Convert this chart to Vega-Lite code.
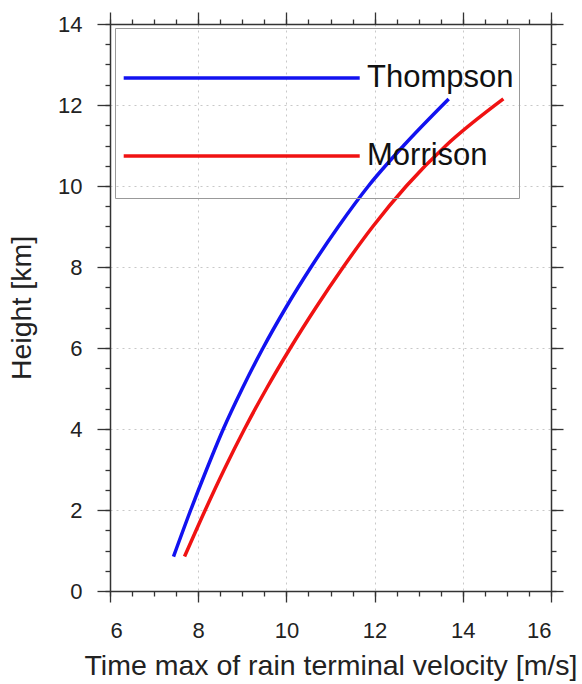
{
  "$schema": "https://vega.github.io/schema/vega-lite/v6.json",
  "width": 441,
  "height": 567,
  "autosize": {"type": "none"},
  "padding": {"left": 110, "top": 24, "right": 31, "bottom": 93},
  "background": "white",
  "config": {
    "view": {"stroke": null},
    "font": "Liberation Sans",
    "axis": {
      "domainColor": "#333",
      "domainWidth": 1.5,
      "tickColor": "#333",
      "tickWidth": 1.3,
      "labelFont": "Liberation Sans",
      "labelFontSize": 22,
      "labelColor": "#222",
      "titleFont": "Liberation Sans",
      "titleFontSize": 28.5,
      "titleFontWeight": "normal",
      "titleColor": "#222"
    }
  },
  "data": {
    "values": [
      {"scheme": "Thompson", "h": 0.85, "v": 7.44},
      {"scheme": "Thompson", "h": 2.0, "v": 7.83},
      {"scheme": "Thompson", "h": 3.0, "v": 8.19},
      {"scheme": "Thompson", "h": 4.0, "v": 8.57},
      {"scheme": "Thompson", "h": 5.0, "v": 9.00},
      {"scheme": "Thompson", "h": 6.0, "v": 9.47},
      {"scheme": "Thompson", "h": 7.0, "v": 9.99},
      {"scheme": "Thompson", "h": 8.0, "v": 10.56},
      {"scheme": "Thompson", "h": 9.0, "v": 11.18},
      {"scheme": "Thompson", "h": 10.0, "v": 11.86},
      {"scheme": "Thompson", "h": 11.0, "v": 12.66},
      {"scheme": "Thompson", "h": 12.15, "v": 13.68},
      {"scheme": "Morrison", "h": 0.85, "v": 7.69},
      {"scheme": "Morrison", "h": 2.0, "v": 8.16},
      {"scheme": "Morrison", "h": 3.0, "v": 8.59},
      {"scheme": "Morrison", "h": 4.0, "v": 9.05},
      {"scheme": "Morrison", "h": 5.0, "v": 9.55},
      {"scheme": "Morrison", "h": 6.0, "v": 10.09},
      {"scheme": "Morrison", "h": 7.0, "v": 10.67},
      {"scheme": "Morrison", "h": 8.0, "v": 11.29},
      {"scheme": "Morrison", "h": 9.0, "v": 11.96},
      {"scheme": "Morrison", "h": 10.0, "v": 12.72},
      {"scheme": "Morrison", "h": 11.0, "v": 13.62},
      {"scheme": "Morrison", "h": 12.15, "v": 14.92}
    ]
  },
  "resolve": {"axis": {"x": "independent", "y": "independent"}},
  "layer": [
    {
      "mark": {"type": "line", "opacity": 0},
      "encoding": {
        "x": {"field": "v", "type": "quantitative", "scale": {"domain": [6, 16], "nice": false, "zero": false},
          "axis": {"orient": "bottom", "values": [6,6.5,7,7.5,8,8.5,9,9.5,10,10.5,11,11.5,12,12.5,13,13.5,14,14.5,15,15.5,16], "labels": false, "title": null, "domain": false, "grid": false, "tickSize": 5}},
        "y": {"field": "h", "type": "quantitative", "scale": {"domain": [0, 14], "nice": false, "zero": false},
          "axis": {"orient": "left", "values": [0,0.5,1,1.5,2,2.5,3,3.5,4,4.5,5,5.5,6,6.5,7,7.5,8,8.5,9,9.5,10,10.5,11,11.5,12,12.5,13,13.5,14], "labels": false, "title": null, "domain": false, "grid": false, "tickSize": 5}},
        "detail": {"field": "scheme"}
      }
    },
    {
      "mark": {"type": "line", "opacity": 0},
      "encoding": {
        "x": {"field": "v", "type": "quantitative",
          "axis": {"orient": "top", "values": [6,6.5,7,7.5,8,8.5,9,9.5,10,10.5,11,11.5,12,12.5,13,13.5,14,14.5,15,15.5,16], "labels": false, "title": null, "domain": false, "grid": false, "tickSize": 5}},
        "y": {"field": "h", "type": "quantitative",
          "axis": {"orient": "right", "values": [0,0.5,1,1.5,2,2.5,3,3.5,4,4.5,5,5.5,6,6.5,7,7.5,8,8.5,9,9.5,10,10.5,11,11.5,12,12.5,13,13.5,14], "labels": false, "title": null, "domain": false, "grid": false, "tickSize": 5}},
        "detail": {"field": "scheme"}
      }
    },
    {
      "mark": {"type": "line", "opacity": 0},
      "encoding": {
        "x": {"field": "v", "type": "quantitative",
          "axis": {"orient": "top", "values": [6, 8, 10, 12, 14, 16], "labels": false, "title": null, "grid": false, "tickSize": 12}},
        "y": {"field": "h", "type": "quantitative",
          "axis": {"orient": "right", "values": [0, 2, 4, 6, 8, 10, 12, 14], "labels": false, "title": null, "grid": false, "tickSize": 12}},
        "detail": {"field": "scheme"}
      }
    },
    {
      "mark": {"type": "line", "strokeWidth": 3.5, "strokeCap": "butt", "interpolate": "monotone"},
      "encoding": {
        "x": {"field": "v", "type": "quantitative",
          "axis": {"orient": "bottom", "values": [6, 8, 10, 12, 14, 16], "title": "Time max of rain terminal velocity [m/s]", "tickSize": 11, "labelPadding": 18, "titlePadding": 10, "grid": true, "gridColor": "#c8c8c8", "gridDash": [2, 4], "gridWidth": 1}},
        "y": {"field": "h", "type": "quantitative",
          "axis": {"orient": "left", "values": [0, 2, 4, 6, 8, 10, 12, 14], "title": "Height [km]", "tickSize": 13, "labelPadding": 15, "titlePadding": 21, "grid": true, "gridColor": "#c8c8c8", "gridDash": [2, 4], "gridWidth": 1}},
        "color": {"field": "scheme", "type": "nominal",
          "scale": {"domain": ["Thompson", "Morrison"], "range": ["#1212f0", "#f01212"]},
          "legend": {"orient": "none", "legendX": 5, "legendY": 4, "title": " ", "titleFontSize": 20, "titlePadding": 9.5, "symbolType": "M-1,-2.5M-1,2.5M-1,0H19", "symbolSize": 557, "symbolStrokeWidth": 3.5, "symbolFillColor": "transparent", "labelFontSize": 31, "labelFont": "Liberation Sans", "labelColor": "#111", "labelOffset": 216, "padding": 5, "strokeColor": "#999", "rowPadding": 3}},
        "order": {"field": "h", "type": "quantitative"}
      }
    }
  ]
}
